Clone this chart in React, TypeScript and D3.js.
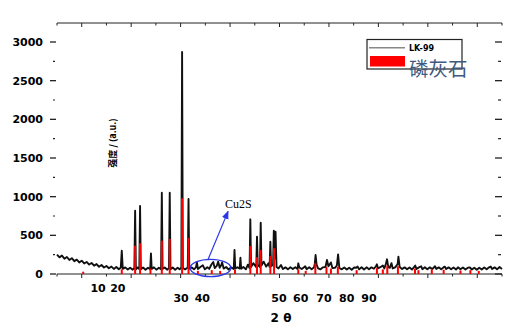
import React from 'react'
import * as d3 from 'd3'

// LK-99 diffraction pattern, [2θ, counts]
const lk99: [number, number][] = [
  [5.0, 250], [5.5, 215], [6.0, 238], [6.5, 198], [7.0, 220], [7.5, 182], [8.0, 204], [8.5, 166],
  [9.0, 186], [9.5, 150], [10.0, 172], [10.5, 136], [11.0, 156], [11.5, 122], [12.0, 142], [12.5, 108],
  [13.0, 128], [13.5, 94], [14.0, 116], [14.5, 84], [15.0, 104], [15.5, 74], [16.0, 96], [16.5, 66],
  [17.0, 90], [17.5, 62], [17.9, 84], [18.1, 300], [18.3, 66], [18.8, 86], [19.3, 58], [19.8, 82],
  [20.3, 56], [20.65, 80], [20.8, 819], [20.95, 60], [21.3, 84], [21.65, 64], [21.8, 879], [21.95, 60],
  [22.4, 84], [22.9, 56], [23.4, 82], [23.85, 62], [24.0, 267], [24.15, 66], [24.6, 86], [25.1, 56],
  [25.6, 82], [26.05, 60], [26.2, 1052], [26.35, 66], [26.8, 84], [27.3, 56], [27.65, 80], [27.8, 1052],
  [27.95, 60], [28.4, 84], [28.9, 56], [29.4, 82], [29.8, 60], [30.15, 84], [30.3, 2870], [30.45, 78],
  [30.9, 60], [31.45, 84], [31.6, 970], [31.75, 66], [32.2, 86], [32.7, 60], [33.1, 86], [33.3, 150],
  [33.5, 64], [34.0, 90], [34.5, 112], [34.9, 60], [35.4, 88], [35.8, 66], [36.2, 120], [36.6, 155],
  [36.9, 76], [37.3, 104], [37.6, 160], [37.9, 80], [38.2, 112], [38.4, 150], [38.7, 70], [39.2, 90],
  [39.7, 58], [40.2, 86], [40.75, 64], [40.9, 310], [41.05, 70], [41.5, 88], [41.95, 70], [42.1, 210],
  [42.25, 68], [42.7, 90], [43.2, 60], [43.6, 120], [43.95, 78], [44.1, 707], [44.25, 90], [44.7, 140],
  [45.3, 88], [45.45, 483], [45.6, 120], [46.05, 90], [46.2, 663], [46.35, 110], [46.8, 160], [47.3, 96],
  [47.8, 140], [48.0, 92], [48.15, 418], [48.3, 100], [48.7, 120], [48.85, 560], [49.0, 200], [49.2, 547],
  [49.4, 90], [49.8, 72], [50.3, 116], [50.7, 64], [51.2, 86], [51.7, 60], [52.2, 88], [52.7, 64],
  [53.2, 88], [53.65, 66], [53.8, 138], [54.0, 84], [54.5, 64], [54.9, 84], [55.2, 100], [55.5, 62],
  [56.0, 86], [56.5, 60], [57.0, 88], [57.15, 140], [57.3, 245], [57.5, 120], [57.8, 74], [58.3, 60],
  [58.8, 86], [59.3, 90], [59.6, 181], [59.9, 100], [60.4, 150], [60.7, 76], [61.2, 80], [61.6, 110],
  [61.85, 254], [62.1, 78], [62.6, 60], [63.1, 84], [63.6, 58], [64.1, 82], [64.6, 56], [65.1, 84],
  [65.5, 80], [65.8, 96], [66.1, 60], [66.6, 88], [67.1, 58], [67.6, 86], [68.1, 60], [68.6, 86],
  [69.1, 68], [69.5, 100], [69.7, 125], [69.9, 74], [70.4, 88], [70.9, 110], [71.2, 72], [71.5, 130],
  [71.75, 190], [72.0, 90], [72.3, 80], [72.65, 140], [72.9, 72], [73.4, 86], [73.9, 130], [74.05, 224],
  [74.3, 90], [74.8, 64], [75.3, 86], [75.8, 60], [76.3, 84], [76.8, 58], [77.2, 88], [77.45, 110],
  [77.7, 64], [78.2, 86], [78.65, 100], [78.9, 62], [79.4, 88], [79.9, 60], [80.4, 86], [80.9, 64],
  [81.45, 100], [81.7, 66], [82.2, 86], [82.7, 60], [83.2, 88], [83.45, 95], [83.7, 64], [84.2, 86],
  [84.7, 60], [85.2, 84], [85.7, 58], [86.1, 86], [86.6, 60], [87.1, 84], [87.6, 58], [88.1, 82],
  [88.5, 84], [88.9, 58], [89.4, 82], [89.9, 56], [90.4, 82], [90.9, 58], [91.4, 84], [91.9, 60],
  [92.4, 86], [92.7, 96], [93.0, 64], [93.5, 86], [94.0, 60], [94.5, 90], [95.0, 66],
]

// apatite reference sticks
const apatite: [number, number][] = [
  [10.3, 30], [18.1, 60], [20.8, 366], [21.8, 397], [23.9, 70], [26.2, 431], [27.8, 453], [30.3, 979],
  [31.6, 466], [33.5, 40], [36.3, 50], [38.0, 40], [41.0, 55], [44.1, 362], [45.45, 216], [46.2, 310],
  [48.15, 233], [48.9, 332], [53.8, 60], [55.3, 40], [57.25, 138], [59.5, 90], [60.4, 70], [61.8, 95],
  [65.6, 50], [69.7, 80], [70.9, 60], [71.8, 110], [73.95, 100], [77.4, 70], [78.1, 50], [80.8, 60],
  [83.2, 55], [86.6, 45], [88.6, 50], [90.3, 40],
]

const yTicks = [0, 500, 1000, 1500, 2000, 2500, 3000]
const xTickLabels = ['10', '20', '30', '40', '50', '60', '70', '80', '90']
// where the (oddly placed) labels sit, in 2θ, and which row
const xLabelAt = [13.3, 17.3, 30.1, 34.4, 49.9, 54.3, 59.0, 63.6, 68.1]
const xLabelRow = [0, 0, 1, 1, 1, 1, 1, 1, 1]

const W = 518, H = 333
const L = 57, R = 502, T = 42, B = 274
const TOP = 23

export default function App() {
  const x = d3.scaleLinear().domain([5, 95]).range([L, R])
  const y = d3.scaleLinear().domain([0, 3000]).range([B, T])
  const line = d3.line<[number, number]>().x(d => x(d[0])).y(d => y(d[1]))
  const xt = d3.range(5, 96, 5)
  const yMinor = d3.range(250, 3001, 500)
  const num = { fontFamily: 'DejaVu Sans', fontWeight: 'bold', fontSize: 11 } as const

  return (
    <svg width={W} height={H} style={{ position: 'absolute', left: 0, top: 0, background: '#fff' }}>
      <defs>
        <marker id="arr" viewBox="0 0 10 10" refX="9" refY="5" markerWidth="7" markerHeight="7" orient="auto">
          <path d="M0,1 L10,5 L0,9 z" fill="#2a36e8" />
        </marker>
      </defs>

      {/* top axis */}
      <line x1={L} x2={R} y1={TOP} y2={TOP} stroke="#222" strokeWidth={1} />
      {xt.map(t => (
        <line key={'t' + t} x1={x(t)} x2={x(t)} y1={TOP} y2={TOP + (t % 10 === 0 ? 4 : 2.5)} stroke="#222" />
      ))}
      {/* bottom axis */}
      <line x1={L} x2={R} y1={B} y2={B} stroke="#222" strokeWidth={1} />
      {xt.map(t => (
        <line key={'b' + t} x1={x(t)} x2={x(t)} y1={B} y2={B + (t % 10 === 0 ? 4 : 2.5)} stroke="#222" />
      ))}
      {xTickLabels.map((s, i) => (
        <text key={s} x={x(xLabelAt[i])} y={xLabelRow[i] ? 302 : 292} textAnchor="middle" {...num}>{s}</text>
      ))}
      <text x={281} y={322} textAnchor="middle" fontFamily="DejaVu Sans" fontWeight="bold" fontSize={12}>2 θ</text>

      {/* left / right ticks */}
      {yTicks.map(v => (
        <g key={'y' + v}>
          <line x1={L - 7} x2={L - 1} y1={y(v)} y2={y(v)} stroke="#222" strokeWidth={1.3} />
          <line x1={R - 7} x2={R} y1={y(v)} y2={y(v)} stroke="#222" strokeWidth={1.3} />
          <text x={43} y={y(v) + 4} textAnchor="end" {...num}>{v}</text>
        </g>
      ))}
      {yMinor.map(v => (
        <g key={'m' + v}>
          <line x1={L - 4} x2={L - 2} y1={y(v)} y2={y(v)} stroke="#222" strokeWidth={1.2} />
          <line x1={R - 4} x2={R - 1} y1={y(v)} y2={y(v)} stroke="#222" strokeWidth={1.2} />
        </g>
      ))}

      <text transform="translate(116,143) rotate(-90)" textAnchor="middle" fontFamily="Noto Sans CJK SC"
        fontWeight="bold" fontSize={9}>强度 / (a.u.)</text>

      {/* pattern */}
      <path d={line(lk99) ?? ''} fill="none" stroke="#111" strokeWidth={1.9} strokeLinejoin="round" />
      {apatite.map(([t, v]) => (
        <rect key={'r' + t} x={x(t) - 1} width={2} y={y(v)} height={B - y(v)} fill="#ff0000" />
      ))}

      {/* Cu2S annotation */}
      <ellipse cx={x(36.05)} cy={y(78)} rx={20.3} ry={8.6} fill="none" stroke="#2a36e8" strokeWidth={1.3} />
      <line x1={x(35.5)} y1={y(180)} x2={x(39.6)} y2={y(810)} stroke="#2a36e8" strokeWidth={1.2} markerEnd="url(#arr)" />
      <text x={x(39.0)} y={y(855)} fontFamily="Liberation Serif" fontSize={12}>Cu2S</text>

      {/* legend */}
      <rect x={367} y={39.5} width={95} height={29.5} fill="#fff" stroke="#222" strokeWidth={1.2} />
      <line x1={369} x2={405} y1={47.7} y2={47.7} stroke="#888" strokeWidth={1.6} />
      <text x={409} y={51} fontFamily="DejaVu Sans" fontWeight="bold" fontSize={8}>LK-99</text>
      <rect x={370} y={56} width={35} height={10.5} fill="#ff0000" />
      <text x={409} y={76} fontFamily="Noto Sans CJK SC" fontSize={19.5} fill="#3d5a80">磷灰石</text>
    </svg>
  )
}
